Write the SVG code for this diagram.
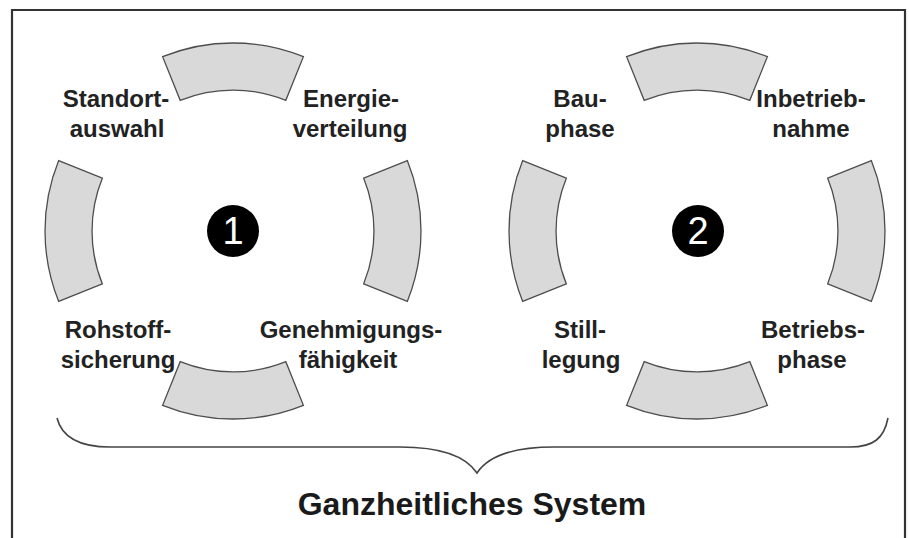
<svg xmlns="http://www.w3.org/2000/svg" xmlns:xlink="http://www.w3.org/1999/xlink" width="909" height="538" viewBox="0 0 909 538">
  <style>
    .seg { fill: #d9d9d9; stroke: #4d4d4d; stroke-width: 1.3; }
    .lbl { font-family: "Liberation Sans", Arial, sans-serif; font-weight: bold; font-size: 24px; fill: #222; text-anchor: middle; }
    .num { font-family: "Liberation Sans", Arial, sans-serif; font-size: 38px; fill: #fff; text-anchor: middle; }
    .badge { fill: #000; }
    .title { font-family: "Liberation Sans", Arial, sans-serif; font-weight: bold; font-size: 32px; fill: #1a1a1a; text-anchor: middle; }
  </style>
  <defs>
    <path id="segment" class="seg" d="M-70.4,-174.3 A188,188 0 0 1 70.4,-174.3 L52.8,-130.7 A141,141 0 0 0 -52.8,-130.7 Z"/>
  </defs>
  <rect x="0" y="0" width="909" height="538" fill="#fff"/>
  <path id="frame" d="M12,545 V10 H905 V545" fill="none" stroke="#333" stroke-width="2.2"/>

  <g id="cycle1">
    <g id="seg1-top"><use xlink:href="#segment" transform="translate(233,231)"/></g>
    <g id="seg1-right"><use xlink:href="#segment" transform="translate(233,231) rotate(90)"/></g>
    <g id="seg1-bottom"><use xlink:href="#segment" transform="translate(233,231) rotate(180)"/></g>
    <g id="seg1-left"><use xlink:href="#segment" transform="translate(233,231) rotate(270)"/></g>
    <g id="badge1"><circle class="badge" cx="233" cy="231" r="26"/><text class="num" x="233" y="244">1</text></g>
    <g id="lbl-standort"><text class="lbl" x="116" y="107">Standort-</text><text class="lbl" x="117" y="137">auswahl</text></g>
    <g id="lbl-energie"><text class="lbl" x="351" y="107">Energie-</text><text class="lbl" x="350" y="137">verteilung</text></g>
    <g id="lbl-rohstoff"><text class="lbl" x="118" y="338">Rohstoff-</text><text class="lbl" x="118" y="368">sicherung</text></g>
    <g id="lbl-genehmigung"><text class="lbl" x="351" y="338">Genehmigungs-</text><text class="lbl" x="348" y="368">fähigkeit</text></g>
  </g>

  <g id="cycle2">
    <g id="seg2-top"><use xlink:href="#segment" transform="translate(697,231)"/></g>
    <g id="seg2-right"><use xlink:href="#segment" transform="translate(697,231) rotate(90)"/></g>
    <g id="seg2-bottom"><use xlink:href="#segment" transform="translate(697,231) rotate(180)"/></g>
    <g id="seg2-left"><use xlink:href="#segment" transform="translate(697,231) rotate(270)"/></g>
    <g id="badge2"><circle class="badge" cx="698" cy="231" r="26"/><text class="num" x="698" y="244">2</text></g>
    <g id="lbl-bau"><text class="lbl" x="580" y="107">Bau-</text><text class="lbl" x="580" y="137">phase</text></g>
    <g id="lbl-inbetrieb"><text class="lbl" x="811" y="107">Inbetrieb-</text><text class="lbl" x="811" y="137">nahme</text></g>
    <g id="lbl-still"><text class="lbl" x="580" y="338">Still-</text><text class="lbl" x="581" y="368">legung</text></g>
    <g id="lbl-betrieb"><text class="lbl" x="813" y="338">Betriebs-</text><text class="lbl" x="812" y="368">phase</text></g>
  </g>

  <g id="connectors">
    <path id="brace" d="M57,418 C62,438 80,447 110,447 L400,447 C440,447 465,455 477,473 C489,455 514,447 554,447 L850,447 C874,447 884,438 888,418" fill="none" stroke="#444" stroke-width="1.6"/>
  </g>

  <g id="system"><text class="title" x="472" y="515">Ganzheitliches System</text></g>
</svg>
